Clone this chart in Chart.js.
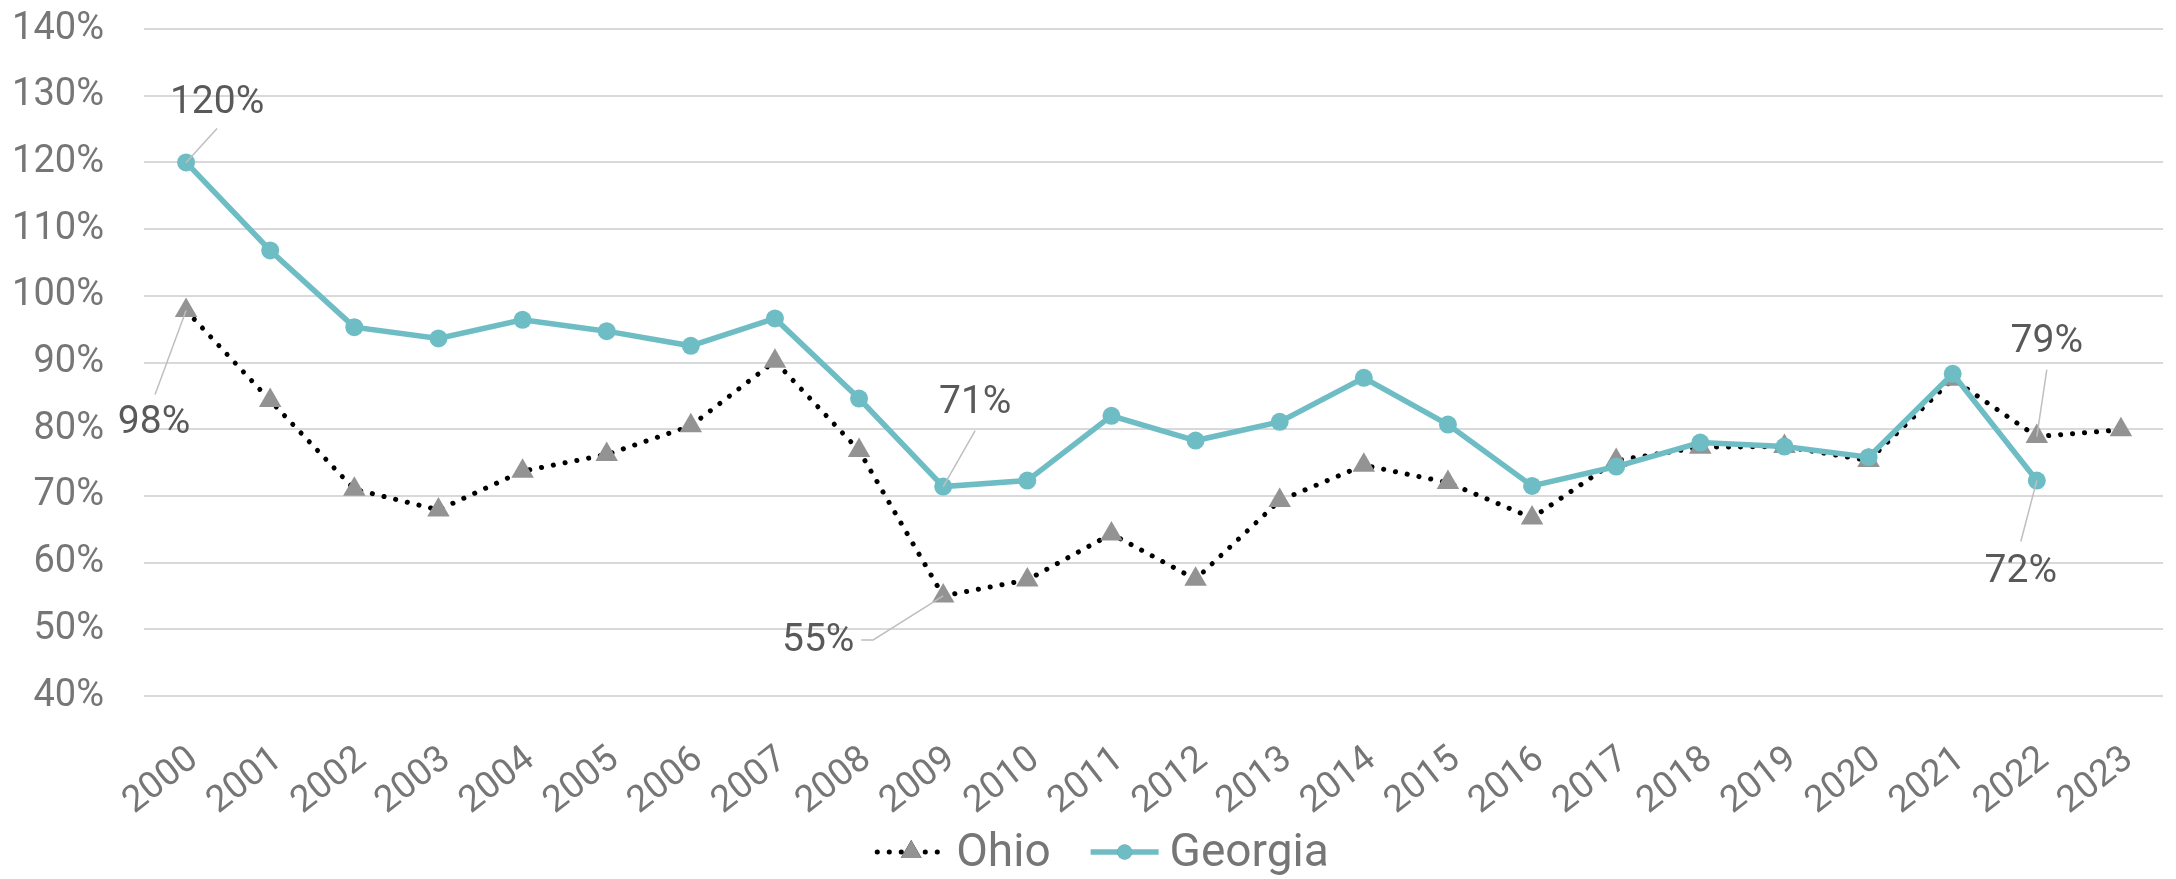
<!DOCTYPE html>
<html>
<head>
<meta charset="utf-8">
<script src="https://cdn.jsdelivr.net/npm/chart.js@4/dist/chart.umd.min.js"></script>
<style>
  html, body { margin: 0; padding: 0; background: #fff; }
  #wrap { width: 2176px; height: 879px; }
</style>
</head>
<body>
<div id="wrap"><canvas id="chart"></canvas></div>
<script>
const years = ['2000','2001','2002','2003','2004','2005','2006','2007','2008','2009','2010','2011',
  '2012','2013','2014','2015','2016','2017','2018','2019','2020','2021','2022','2023'];

// percent values
const ohio = [97.8, 84.3, 71.0, 67.9, 73.7, 76.2, 80.5, 90.2, 76.8, 55.0, 57.4, 64.3,
  57.5, 69.3, 74.6, 72.0, 66.7, 75.3, 77.3, 77.4, 75.3, 87.5, 78.9, 79.9];
const georgia = [120.0, 106.8, 95.3, 93.6, 96.4, 94.7, 92.5, 96.6, 84.6, 71.4, 72.3, 82.0,
  78.3, 81.1, 87.7, 80.7, 71.5, 74.4, 78.0, 77.4, 75.8, 88.3, 72.3, null];

const yMin = 40;
const yMax = 140;
const yStep = 10;

const FONT = "Roboto, 'Liberation Sans', sans-serif";
const AXIS_COLOR = '#767676';
const TEAL = '#6fbdc4';
const TRI = '#939393';

// which points get a value label, and where the label sits (px from the point)
const callouts = [
  { ds: 1, idx: 0,  dx: 31,   dy: -60, leader: [[31, -34]] },
  { ds: 0, idx: 0,  dx: -32,  dy: 112, leader: [[-31, 84]] },
  { ds: 1, idx: 9,  dx: 32,   dy: -84, leader: [[32, -56]] },
  { ds: 0, idx: 9,  dx: -125, dy: 44,  leader: [[-70, 44], [-82, 44]] },
  { ds: 0, idx: 22, dx: 10,   dy: -95, leader: [[10, -67]] },
  { ds: 1, idx: 22, dx: -16,  dy: 91,  leader: [[-16, 61]] }
];

const calloutPlugin = {
  id: 'callouts',
  afterDatasetsDraw(chart) {
    const ctx = chart.ctx;
    ctx.save();
    callouts.forEach(c => {
      const pt = chart.getDatasetMeta(c.ds).data[c.idx];
      const v = chart.data.datasets[c.ds].data[c.idx];
      ctx.strokeStyle = '#bfbfbf';
      ctx.lineWidth = 1.5;
      ctx.setLineDash([]);
      ctx.beginPath();
      ctx.moveTo(pt.x, pt.y);
      c.leader.forEach(p => ctx.lineTo(pt.x + p[0], pt.y + p[1]));
      ctx.stroke();
      ctx.fillStyle = '#595959';
      ctx.font = '39px ' + FONT;
      ctx.textAlign = 'center';
      ctx.textBaseline = 'middle';
      ctx.fillText(Math.round(v) + '%', pt.x + c.dx, pt.y + c.dy + 1);
    });
    ctx.restore();
  }
};

// legend with line + marker samples, like the original
const legendPlugin = {
  id: 'lineLegend',
  afterDraw(chart) {
    const ctx = chart.ctx;
    const y = 852;
    const sampleW = 68;
    const textGap = 11;
    const itemGap = 40;
    ctx.save();
    ctx.font = '46px ' + FONT;
    const items = chart.data.datasets.map(d => ({ ds: d, w: ctx.measureText(d.label).width }));
    const total = items.reduce((s, it) => s + sampleW + textGap + it.w, 0) + itemGap * (items.length - 1);
    let x = chart.width / 2 + 15 - total / 2;
    items.forEach(it => {
      const d = it.ds;
      ctx.strokeStyle = d.borderColor;
      ctx.lineWidth = d.borderWidth;
      ctx.lineCap = d.borderCapStyle || 'butt';
      ctx.setLineDash(d.borderDash || []);
      ctx.beginPath();
      ctx.moveTo(x, y);
      ctx.lineTo(x + sampleW, y);
      ctx.stroke();
      ctx.setLineDash([]);
      Chart.helpers.drawPoint(ctx, {
        pointStyle: d.pointStyle,
        radius: d.pointStyle === 'triangle' ? 12 : 7.5,
        borderWidth: 0
      }, x + sampleW / 2, y);
      ctx.fillStyle = d.pointBackgroundColor;
      ctx.fill();
      ctx.fillStyle = AXIS_COLOR;
      ctx.textAlign = 'left';
      ctx.textBaseline = 'middle';
      ctx.fillText(d.label, x + sampleW + textGap, y + 2);
      x += sampleW + textGap + it.w + itemGap;
    });
    ctx.restore();
  }
};

new Chart(document.getElementById('chart'), {
  type: 'line',
  data: {
    labels: years,
    datasets: [
      {
        label: 'Ohio',
        data: ohio,
        borderColor: '#000000',
        borderWidth: 5,
        borderDash: [0.1, 11.9],
        borderCapStyle: 'round',
        pointStyle: 'triangle',
        pointRadius: 13,
        pointBackgroundColor: TRI,
        pointBorderWidth: 0,
        tension: 0,
        order: 1
      },
      {
        label: 'Georgia',
        data: georgia,
        borderColor: TEAL,
        borderWidth: 5.5,
        pointStyle: 'circle',
        pointRadius: 9,
        pointBackgroundColor: TEAL,
        pointBorderWidth: 0,
        tension: 0,
        order: 0
      }
    ]
  },
  options: {
    responsive: true,
    maintainAspectRatio: false,
    animation: false,
    layout: { padding: { top: 29, right: 0, bottom: 0, left: 0 } },
    plugins: {
      legend: { display: false },
      tooltip: { enabled: false }
    },
    scales: {
      x: {
        offset: true,
        grid: { display: false },
        border: { display: false },
        ticks: {
          color: AXIS_COLOR,
          font: { family: FONT, size: 37 },
          minRotation: 38,
          maxRotation: 38,
          autoSkip: false,
          padding: 34,
          labelOffset: 8
        },
        afterFit(scale) {
          scale.height = 183;
          scale.paddingRight = 0;
        }
      },
      y: {
        min: yMin,
        max: yMax,
        ticks: {
          stepSize: yStep,
          color: AXIS_COLOR,
          font: { family: FONT, size: 38 },
          padding: 40,
          callback: v => v + '%'
        },
        grid: { color: '#d9d9d9', lineWidth: 2, drawTicks: false },
        border: { display: false },
        afterFit(scale) {
          scale.width = 144;
          scale.paddingTop = 0;
          scale.paddingBottom = 0;
        }
      }
    }
  },
  plugins: [calloutPlugin, legendPlugin]
});
</script>
</body>
</html>
